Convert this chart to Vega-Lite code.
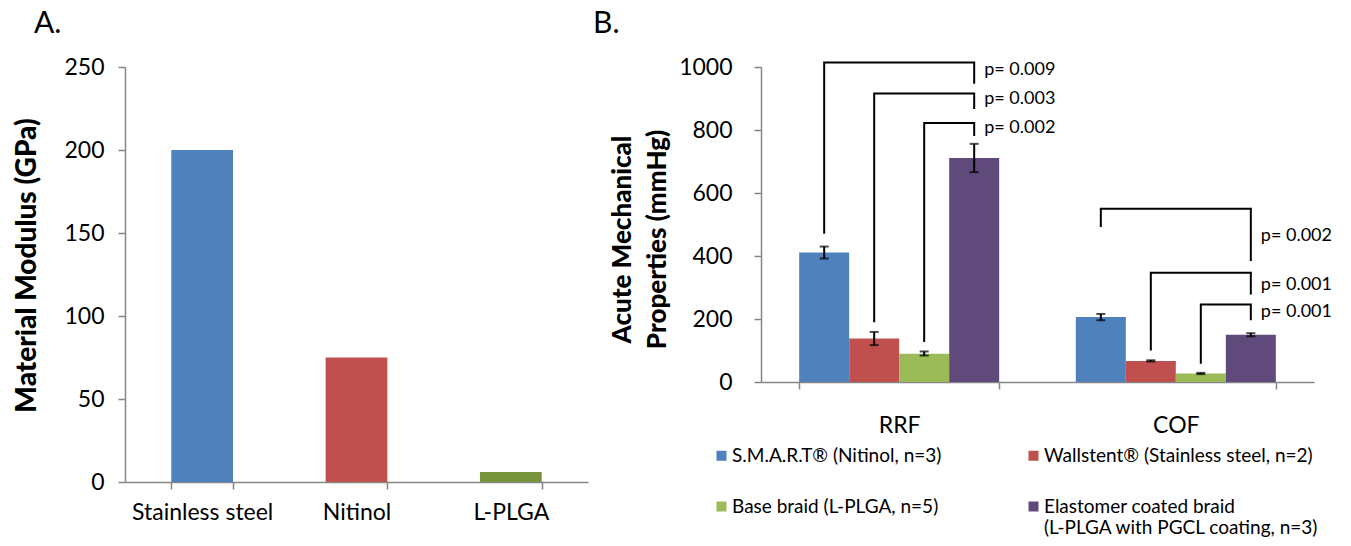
{
  "$schema": "https://vega.github.io/schema/vega-lite/v6.json",
  "padding": {"left": 13, "top": 9, "right": 5, "bottom": 0},
  "background": "white",
  "config": {
    "font": "Lato",
    "view": {"stroke": null},
    "axis": {"grid": false, "domainColor": "#868686", "tickColor": "#868686", "domainWidth": 1.5, "tickWidth": 1.5, "tickSize": 7, "labelFont": "Lato", "labelFontSize": 23, "labelColor": "#000000", "titleFont": "Lato", "titleColor": "#000000", "titleFontWeight": 900, "titleFontSize": 26},
    "title": {"font": "Lato", "fontSize": 30, "fontWeight": "normal", "anchor": "start", "frame": "group", "color": "#000000"}
  },
  "datasets": {
    "modulus": [
      {"material": "Stainless steel", "modulus": 200},
      {"material": "Nitinol", "modulus": 75},
      {"material": "L-PLGA", "modulus": 6}
    ],
    "acute": [
      {"cat": "RRF", "series": "S.M.A.R.T® (Nitinol, n=3)", "value": 411, "lo": 392, "hi": 430},
      {"cat": "RRF", "series": "Wallstent® (Stainless steel, n=2)", "value": 138, "lo": 117, "hi": 159},
      {"cat": "RRF", "series": "Base braid (L-PLGA, n=5)", "value": 90, "lo": 84, "hi": 97},
      {"cat": "RRF", "series": "Elastomer coated braid (L-PLGA with PGCL coating, n=3)", "value": 711, "lo": 666, "hi": 756},
      {"cat": "COF", "series": "S.M.A.R.T® (Nitinol, n=3)", "value": 206, "lo": 196, "hi": 216},
      {"cat": "COF", "series": "Wallstent® (Stainless steel, n=2)", "value": 67, "lo": 65, "hi": 69},
      {"cat": "COF", "series": "Base braid (L-PLGA, n=5)", "value": 27, "lo": 25, "hi": 29},
      {"cat": "COF", "series": "Elastomer coated braid (L-PLGA with PGCL coating, n=3)", "value": 150, "lo": 145, "hi": 155}
    ],
    "brackets": [
      {"id": "RRF1", "cat": "RRF", "ord": 1, "series": "S.M.A.R.T® (Nitinol, n=3)", "v": 471},
      {"id": "RRF1", "cat": "RRF", "ord": 2, "series": "S.M.A.R.T® (Nitinol, n=3)", "v": 1014},
      {"id": "RRF1", "cat": "RRF", "ord": 3, "series": "Elastomer coated braid (L-PLGA with PGCL coating, n=3)", "v": 1014},
      {"id": "RRF1", "cat": "RRF", "ord": 4, "series": "Elastomer coated braid (L-PLGA with PGCL coating, n=3)", "v": 947},
      {"id": "RRF2", "cat": "RRF", "ord": 1, "series": "Wallstent® (Stainless steel, n=2)", "v": 190},
      {"id": "RRF2", "cat": "RRF", "ord": 2, "series": "Wallstent® (Stainless steel, n=2)", "v": 916},
      {"id": "RRF2", "cat": "RRF", "ord": 3, "series": "Elastomer coated braid (L-PLGA with PGCL coating, n=3)", "v": 916},
      {"id": "RRF2", "cat": "RRF", "ord": 4, "series": "Elastomer coated braid (L-PLGA with PGCL coating, n=3)", "v": 867},
      {"id": "RRF3", "cat": "RRF", "ord": 1, "series": "Base braid (L-PLGA, n=5)", "v": 127},
      {"id": "RRF3", "cat": "RRF", "ord": 2, "series": "Base braid (L-PLGA, n=5)", "v": 822},
      {"id": "RRF3", "cat": "RRF", "ord": 3, "series": "Elastomer coated braid (L-PLGA with PGCL coating, n=3)", "v": 822},
      {"id": "RRF3", "cat": "RRF", "ord": 4, "series": "Elastomer coated braid (L-PLGA with PGCL coating, n=3)", "v": 781},
      {"id": "COF1", "cat": "COF", "ord": 1, "series": "S.M.A.R.T® (Nitinol, n=3)", "v": 492},
      {"id": "COF1", "cat": "COF", "ord": 2, "series": "S.M.A.R.T® (Nitinol, n=3)", "v": 550},
      {"id": "COF1", "cat": "COF", "ord": 3, "series": "Elastomer coated braid (L-PLGA with PGCL coating, n=3)", "v": 550},
      {"id": "COF1", "cat": "COF", "ord": 4, "series": "Elastomer coated braid (L-PLGA with PGCL coating, n=3)", "v": 384},
      {"id": "COF2", "cat": "COF", "ord": 1, "series": "Wallstent® (Stainless steel, n=2)", "v": 100},
      {"id": "COF2", "cat": "COF", "ord": 2, "series": "Wallstent® (Stainless steel, n=2)", "v": 347},
      {"id": "COF2", "cat": "COF", "ord": 3, "series": "Elastomer coated braid (L-PLGA with PGCL coating, n=3)", "v": 347},
      {"id": "COF2", "cat": "COF", "ord": 4, "series": "Elastomer coated braid (L-PLGA with PGCL coating, n=3)", "v": 278},
      {"id": "COF3", "cat": "COF", "ord": 1, "series": "Base braid (L-PLGA, n=5)", "v": 58},
      {"id": "COF3", "cat": "COF", "ord": 2, "series": "Base braid (L-PLGA, n=5)", "v": 246},
      {"id": "COF3", "cat": "COF", "ord": 3, "series": "Elastomer coated braid (L-PLGA with PGCL coating, n=3)", "v": 246},
      {"id": "COF3", "cat": "COF", "ord": 4, "series": "Elastomer coated braid (L-PLGA with PGCL coating, n=3)", "v": 196}
    ],
    "pvals": [
      {"cat": "RRF", "series": "Elastomer coated braid (L-PLGA with PGCL coating, n=3)", "v": 989, "label": "p= 0.009"},
      {"cat": "RRF", "series": "Elastomer coated braid (L-PLGA with PGCL coating, n=3)", "v": 897, "label": "p= 0.003"},
      {"cat": "RRF", "series": "Elastomer coated braid (L-PLGA with PGCL coating, n=3)", "v": 805, "label": "p= 0.002"},
      {"cat": "COF", "series": "Elastomer coated braid (L-PLGA with PGCL coating, n=3)", "v": 462, "label": "p= 0.002"},
      {"cat": "COF", "series": "Elastomer coated braid (L-PLGA with PGCL coating, n=3)", "v": 307, "label": "p= 0.001"},
      {"cat": "COF", "series": "Elastomer coated braid (L-PLGA with PGCL coating, n=3)", "v": 221, "label": "p= 0.001"}
    ]
  },
  "spacing": 5,
  "resolve": {"scale": {"color": "independent"}},
  "hconcat": [
    {
      "title": {"text": "A.", "dx": -91, "offset": 17},
      "width": 463,
      "height": 415,
      "data": {"name": "modulus"},
      "mark": {"type": "bar"},
      "encoding": {
        "x": {"field": "material", "type": "nominal", "sort": null, "scale": {"paddingInner": 0.6, "paddingOuter": 0.3}, "axis": {"title": null, "labelAngle": 0, "tickBand": "extent", "labelPadding": 12}},
        "y": {"field": "modulus", "type": "quantitative", "scale": {"domain": [0, 250], "nice": false}, "axis": {"title": "Material Modulus (GPa)", "titleFontSize": 28, "titleY": 198, "values": [0, 50, 100, 150, 200, 250], "labelPadding": 14, "titlePadding": 22}},
        "color": {"field": "material", "type": "nominal", "scale": {"domain": ["Stainless steel", "Nitinol", "L-PLGA"], "range": ["#4F81BD", "#C0504D", "#77933C"]}, "legend": null}
      }
    },
    {
      "title": {"text": "B.", "dx": -168, "offset": 17},
      "width": 553,
      "height": 315,
      "encoding": {
        "x": {"field": "cat", "type": "nominal", "sort": ["RRF", "COF"], "scale": {"domain": ["RRF", "COF"], "paddingInner": 0.277, "paddingOuter": 0.138}, "axis": {"title": null, "labelAngle": 0, "tickBand": "extent", "labelPadding": 25}},
        "xOffset": {"field": "series", "type": "nominal", "scale": {"domain": ["S.M.A.R.T® (Nitinol, n=3)", "Wallstent® (Stainless steel, n=2)", "Base braid (L-PLGA, n=5)", "Elastomer coated braid (L-PLGA with PGCL coating, n=3)"], "paddingInner": 0, "paddingOuter": 0}}
      },
      "layer": [
        {
          "data": {"name": "acute"},
          "mark": {"type": "bar"},
          "encoding": {
            "y": {"field": "value", "type": "quantitative", "scale": {"domain": [0, 1000], "nice": false}, "axis": {"title": ["Acute Mechanical", "Properties (mmHg)"], "titleLineHeight": 35, "titleY": 172, "format": "d", "values": [0, 200, 400, 600, 800, 1000], "labelPadding": 22, "titlePadding": 8}},
            "color": {"field": "series", "type": "nominal", "scale": {"domain": ["S.M.A.R.T® (Nitinol, n=3)", "Wallstent® (Stainless steel, n=2)", "Base braid (L-PLGA, n=5)", "Elastomer coated braid (L-PLGA with PGCL coating, n=3)"], "range": ["#4F81BD", "#C0504D", "#9BBB59", "#604A7B"]},
              "legend": {"orient": "none", "legendX": -49, "legendY": 379, "columns": 2, "title": null, "values": ["S.M.A.R.T® (Nitinol, n=3)", "Base braid (L-PLGA, n=5)", "Wallstent® (Stainless steel, n=2)", "Elastomer coated braid (L-PLGA with PGCL coating, n=3)"], "symbolType": "square", "symbolSize": 100, "symbolStrokeWidth": 0, "labelFont": "Lato", "labelFontSize": 19, "labelColor": "#000000", "columnPadding": 82, "rowPadding": 31, "labelOffset": 1, "labelLimit": 400,
                "labelExpr": "datum.label == 'Elastomer coated braid (L-PLGA with PGCL coating, n=3)' ? ['Elastomer coated braid', '(L-PLGA with PGCL coating, n=3)'] : datum.label"}}
          }
        },
        {
          "data": {"name": "acute"},
          "mark": {"type": "rule", "strokeWidth": 2, "color": "#000000"},
          "encoding": {
            "y": {"field": "lo", "type": "quantitative", "scale": {"domain": [0, 1000], "nice": false}, "axis": {"title": ["Acute Mechanical", "Properties (mmHg)"], "titleLineHeight": 35, "titleY": 172, "format": "d", "values": [0, 200, 400, 600, 800, 1000], "labelPadding": 22, "titlePadding": 8}},
            "y2": {"field": "hi"}
          }
        },
        {
          "data": {"name": "acute"},
          "mark": {"type": "tick", "size": 9, "thickness": 2, "color": "#000000", "orient": "horizontal"},
          "encoding": {
            "y": {"field": "hi", "type": "quantitative", "scale": {"domain": [0, 1000], "nice": false}, "axis": {"title": ["Acute Mechanical", "Properties (mmHg)"], "titleLineHeight": 35, "titleY": 172, "format": "d", "values": [0, 200, 400, 600, 800, 1000], "labelPadding": 22, "titlePadding": 8}}
          }
        },
        {
          "data": {"name": "acute"},
          "mark": {"type": "tick", "size": 9, "thickness": 2, "color": "#000000", "orient": "horizontal"},
          "encoding": {
            "y": {"field": "lo", "type": "quantitative", "scale": {"domain": [0, 1000], "nice": false}, "axis": {"title": ["Acute Mechanical", "Properties (mmHg)"], "titleLineHeight": 35, "titleY": 172, "format": "d", "values": [0, 200, 400, 600, 800, 1000], "labelPadding": 22, "titlePadding": 8}}
          }
        },
        {
          "data": {"name": "brackets"},
          "mark": {"type": "line", "color": "#000000", "strokeWidth": 2},
          "encoding": {
            "y": {"field": "v", "type": "quantitative", "scale": {"domain": [0, 1000], "nice": false}, "axis": {"title": ["Acute Mechanical", "Properties (mmHg)"], "titleLineHeight": 35, "titleY": 172, "format": "d", "values": [0, 200, 400, 600, 800, 1000], "labelPadding": 22, "titlePadding": 8}},
            "detail": {"field": "id"},
            "order": {"field": "ord"}
          }
        },
        {
          "data": {"name": "pvals"},
          "mark": {"type": "text", "align": "left", "baseline": "middle", "dx": 10, "fontSize": 18, "font": "Lato", "color": "#000000"},
          "encoding": {
            "y": {"field": "v", "type": "quantitative", "scale": {"domain": [0, 1000], "nice": false}, "axis": {"title": ["Acute Mechanical", "Properties (mmHg)"], "titleLineHeight": 35, "titleY": 172, "format": "d", "values": [0, 200, 400, 600, 800, 1000], "labelPadding": 22, "titlePadding": 8}},
            "text": {"field": "label"}
          }
        }
      ]
    }
  ]
}
